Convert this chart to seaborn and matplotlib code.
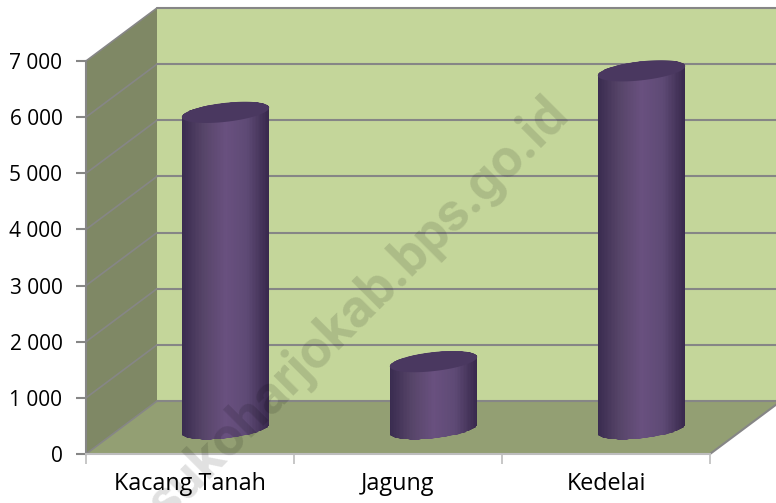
import numpy as np
import matplotlib
matplotlib.use('Agg')
import matplotlib.pyplot as plt
import seaborn as sns
from matplotlib.colors import LinearSegmentedColormap
from matplotlib.patches import Polygon, PathPatch
from matplotlib.path import Path
from matplotlib.transforms import Affine2D

# data
crops = ['Kacang Tanah', 'Jagung', 'Kedelai']
values = [5640, 1200, 6380]
y_ticks = [0, 1000, 2000, 3000, 4000, 5000, 6000, 7000]
y_labels = ['0', '1 000', '2 000', '3 000', '4 000', '5 000', '6 000', '7 000']

# pixels of the 3d box
W, H = 776, 503
L, R, TOP, BOT = 86, 710, 61, 454
DEPTH_X, DEPTH_Y = 71, 53

sns.set_theme(style='white')
plt.rcParams['font.family'] = ['Open Sans', 'DejaVu Sans']

fig = plt.figure(figsize=(W / 100, H / 100), dpi=100)
ax = fig.add_axes([L / W, (H - BOT) / H, (R - L) / W, (BOT - TOP) / H])

sns.barplot(x=crops, y=values, width=0.42, ax=ax)
ax.set_xlim(-0.5, 2.5)
ax.set_ylim(0, 7000)
ax.patch.set_visible(False)
for s in ['top', 'right']:
    ax.spines[s].set_visible(False)
ax.spines['left'].set_color('#868686')
ax.spines['left'].set_linewidth(1.5)
ax.spines['bottom'].set_color('#BDBDBD')
ax.spines['bottom'].set_linewidth(1.5)
ax.spines['left'].set_zorder(5)
ax.spines['bottom'].set_zorder(5)

back = Affine2D().translate(DEPTH_X, DEPTH_Y)
mid = Affine2D().translate(DEPTH_X / 2, 25)

# walls and floor
ymax = y_ticks[-1]
box = ax.transData + back
ax.add_patch(Polygon([(-0.5, 0), (2.5, 0), (2.5, ymax), (-0.5, ymax)], transform=box,
                     fc='#C4D69A', ec='none', zorder=0, clip_on=False))
side = [(L, H - BOT), (L, H - TOP), (L + DEPTH_X, H - TOP + DEPTH_Y), (L + DEPTH_X, H - BOT + DEPTH_Y)]
floor = [(L, H - BOT), (R, H - BOT), (R + DEPTH_X, H - BOT + DEPTH_Y), (L + DEPTH_X, H - BOT + DEPTH_Y)]
ax.add_patch(Polygon(side, transform=None, fc='#7F8865', ec='none', zorder=1, clip_on=False))
ax.add_patch(Polygon(floor, transform=None, fc='#939F73', ec='none', zorder=1, clip_on=False))

# gridlines: along the side wall and along the back wall
for v in y_ticks:
    ax.plot([-0.5, 2.5], [v, v], transform=box, color='#868686', lw=1.5, zorder=1.5, clip_on=False)
    y0 = H - BOT + (BOT - TOP) * v / ymax
    ax.plot([L, L + DEPTH_X], [y0, y0 + DEPTH_Y], transform=None, color='#868686', lw=1.2,
            zorder=1.5, clip_on=False)
ax.plot([R, R + DEPTH_X], [H - BOT, H - BOT + DEPTH_Y], transform=None, color='#868686', lw=1.5,
        zorder=1.5, clip_on=False)

# cylinders, built from the bars seaborn made
cyl_map = LinearSegmentedColormap.from_list('cyl', ['#3A2C50', '#574569', '#69507F', '#5E4A75', '#39294D'])
px_x = 3 / (R - L)
px_y = ymax / (BOT - TOP)
bar_tf = ax.transData + mid
for bar in ax.patches[:len(crops)]:
    x0, w, h = bar.get_x(), bar.get_width(), bar.get_height()
    bar.set_visible(False)
    cx = x0 + w / 2
    a = w / 2
    tilt = 0.108 * a / px_x * px_y
    b = 9.5 * px_y
    t = np.linspace(0, np.pi, 60)
    # top half of the lid then lower half of the base
    xs = np.r_[cx + a * np.cos(t), cx + a * np.cos(t[::-1])]
    ys = np.r_[h + tilt * np.cos(t) + b * np.sin(t),
               tilt * np.cos(t[::-1]) - b * np.sin(t[::-1])]
    body = PathPatch(Path(np.c_[xs, ys]), transform=bar_tf, fc='none', ec='none', zorder=3)
    ax.add_patch(body)
    gx = np.linspace(x0, x0 + w, 61)
    gy = np.array([-2 * b, h + 2 * b])
    grad = np.linspace(0, 1, 60).reshape(1, -1)
    mesh = ax.pcolormesh(gx, gy, grad, cmap=cyl_map, transform=bar_tf, zorder=3, shading='flat')
    mesh.set_clip_path(body)
    t2 = np.linspace(0, 2 * np.pi, 120)
    ax.fill(cx + a * np.cos(t2), h + tilt * np.cos(t2) + b * np.sin(t2), transform=bar_tf,
            color='#4A3860', lw=0, zorder=4, clip_on=False)

ax.set_xlim(-0.5, 2.5)
ax.set_ylim(0, 7000)

ax.set_yticks(y_ticks)
ax.set_yticklabels(y_labels, fontsize=15, color='black')
ax.set_xticks([0, 1, 2])
ax.set_xticklabels(crops, fontsize=16.8, color='black')
ax.set_xticks([-0.5, 0.5, 1.5, 2.5], minor=True)
ax.tick_params(axis='y', length=7, width=1.5, color='#868686', left=True, pad=10)
ax.tick_params(axis='x', which='major', length=0, pad=13)
ax.tick_params(axis='x', which='minor', length=7, width=1.2, color='#BDBDBD', bottom=True)

# watermark
fig.text(358 / W, 1 - 309 / H, 'sukoharjokab.bps.go.id', rotation=45, rotation_mode='anchor',
         ha='center', va='center', fontsize=39, fontweight='bold', color='black', alpha=0.12,
         family='Roboto', zorder=10)

fig.savefig('out.png', dpi=100)
